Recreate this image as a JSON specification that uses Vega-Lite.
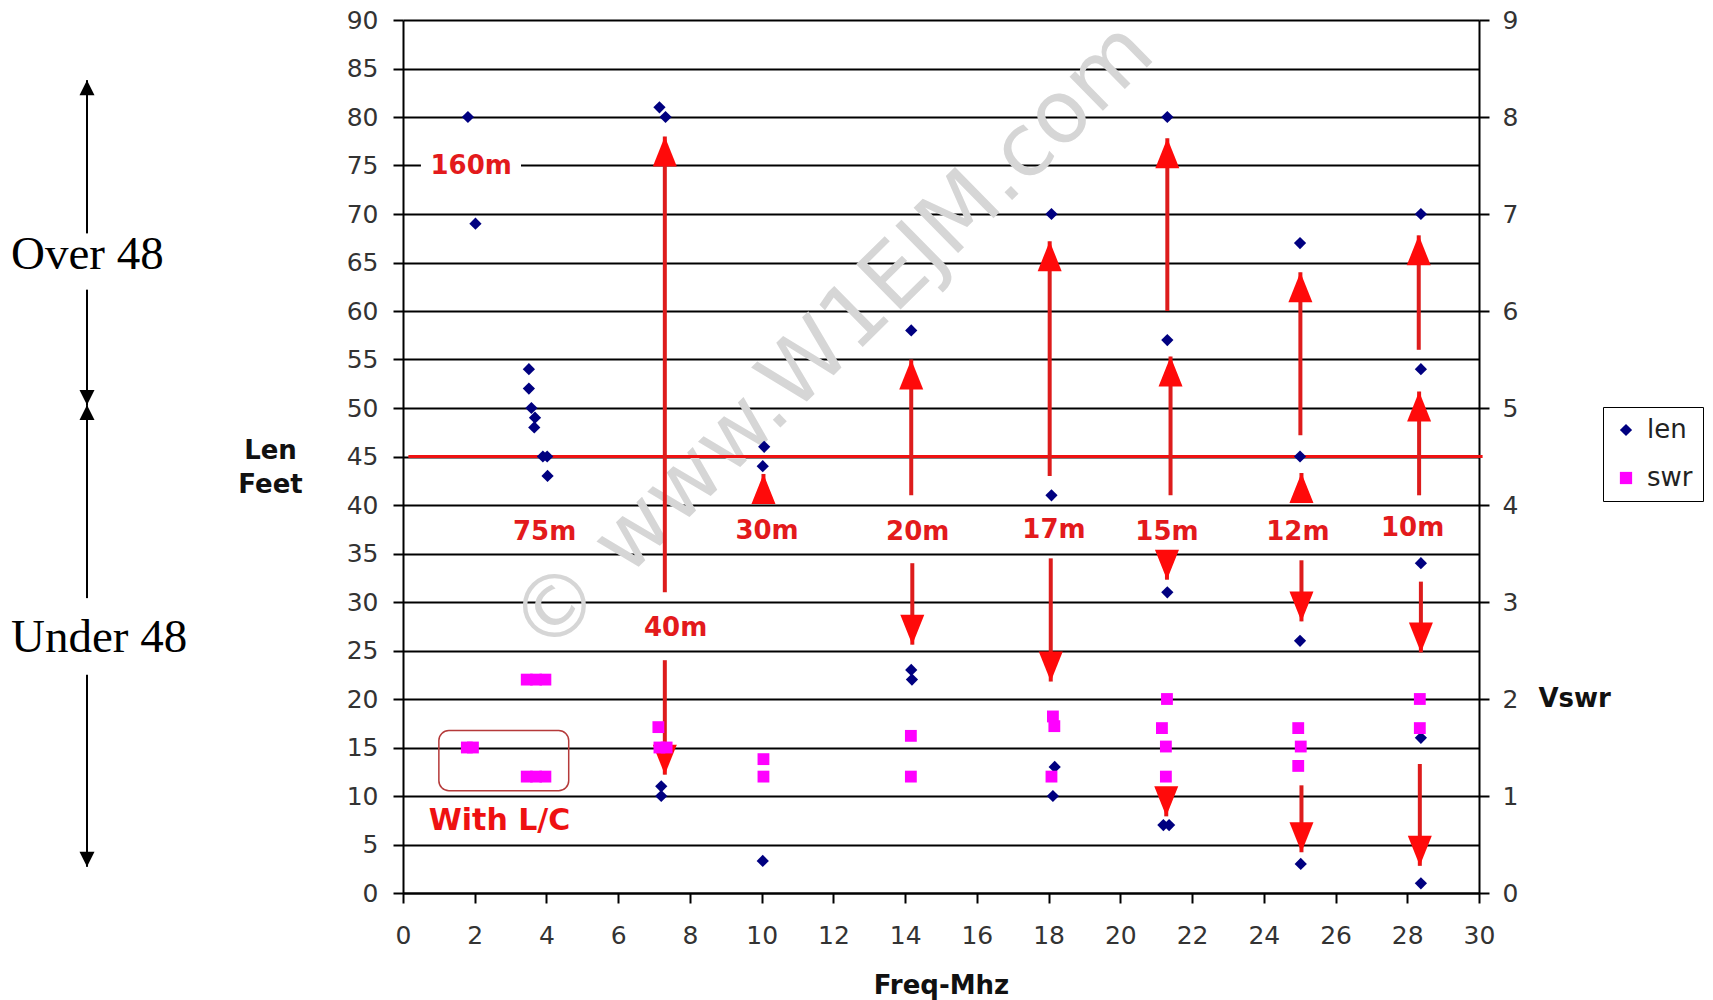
{
  "$schema": "https://vega.github.io/schema/vega-lite/v6.json",
  "width": 1076,
  "height": 873,
  "autosize": {"type": "none"},
  "padding": {"left": 403, "top": 20, "right": 234, "bottom": 107},
  "background": "white",
  "config": {"view": {"stroke": null}, "font": "DejaVu Sans"},
  "datasets": {
    "len": [
      {"series": "len", "freq": 1.81, "len": 80},
      {"series": "len", "freq": 2.02, "len": 69},
      {"series": "len", "freq": 3.51, "len": 54},
      {"series": "len", "freq": 3.51, "len": 52},
      {"series": "len", "freq": 3.58, "len": 50},
      {"series": "len", "freq": 3.68, "len": 49},
      {"series": "len", "freq": 3.66, "len": 48},
      {"series": "len", "freq": 3.9, "len": 45},
      {"series": "len", "freq": 4.02, "len": 45},
      {"series": "len", "freq": 4.03, "len": 43},
      {"series": "len", "freq": 7.15, "len": 81},
      {"series": "len", "freq": 7.32, "len": 80},
      {"series": "len", "freq": 7.2, "len": 11},
      {"series": "len", "freq": 7.2, "len": 10},
      {"series": "len", "freq": 10.07, "len": 46},
      {"series": "len", "freq": 10.03, "len": 44},
      {"series": "len", "freq": 10.03, "len": 3.3},
      {"series": "len", "freq": 14.17, "len": 58},
      {"series": "len", "freq": 14.17, "len": 23},
      {"series": "len", "freq": 14.19, "len": 22},
      {"series": "len", "freq": 18.08, "len": 70},
      {"series": "len", "freq": 18.08, "len": 41},
      {"series": "len", "freq": 18.17, "len": 13},
      {"series": "len", "freq": 18.12, "len": 10},
      {"series": "len", "freq": 21.31, "len": 80},
      {"series": "len", "freq": 21.31, "len": 57},
      {"series": "len", "freq": 21.31, "len": 31},
      {"series": "len", "freq": 21.2, "len": 7},
      {"series": "len", "freq": 21.36, "len": 7},
      {"series": "len", "freq": 25.01, "len": 67},
      {"series": "len", "freq": 25.01, "len": 45},
      {"series": "len", "freq": 25.01, "len": 26},
      {"series": "len", "freq": 25.03, "len": 3},
      {"series": "len", "freq": 28.38, "len": 70},
      {"series": "len", "freq": 28.38, "len": 54},
      {"series": "len", "freq": 28.38, "len": 34},
      {"series": "len", "freq": 28.38, "len": 16},
      {"series": "len", "freq": 28.38, "len": 1}
    ],
    "swr": [
      {"series": "swr", "freq": 1.78, "swr": 1.5},
      {"series": "swr", "freq": 1.95, "swr": 1.5},
      {"series": "swr", "freq": 3.45, "swr": 2.2},
      {"series": "swr", "freq": 3.71, "swr": 2.2},
      {"series": "swr", "freq": 3.97, "swr": 2.2},
      {"series": "swr", "freq": 3.45, "swr": 1.2},
      {"series": "swr", "freq": 3.71, "swr": 1.2},
      {"series": "swr", "freq": 3.97, "swr": 1.2},
      {"series": "swr", "freq": 7.12, "swr": 1.71},
      {"series": "swr", "freq": 7.15, "swr": 1.5},
      {"series": "swr", "freq": 7.35, "swr": 1.5},
      {"series": "swr", "freq": 10.05, "swr": 1.38},
      {"series": "swr", "freq": 10.05, "swr": 1.2},
      {"series": "swr", "freq": 14.16, "swr": 1.62},
      {"series": "swr", "freq": 14.16, "swr": 1.2},
      {"series": "swr", "freq": 18.12, "swr": 1.82},
      {"series": "swr", "freq": 18.16, "swr": 1.72},
      {"series": "swr", "freq": 18.08, "swr": 1.2},
      {"series": "swr", "freq": 21.3, "swr": 2.0},
      {"series": "swr", "freq": 21.16, "swr": 1.7},
      {"series": "swr", "freq": 21.27, "swr": 1.51},
      {"series": "swr", "freq": 21.27, "swr": 1.2},
      {"series": "swr", "freq": 24.96, "swr": 1.7},
      {"series": "swr", "freq": 25.03, "swr": 1.51},
      {"series": "swr", "freq": 24.96, "swr": 1.31},
      {"series": "swr", "freq": 28.35, "swr": 2.0},
      {"series": "swr", "freq": 28.35, "swr": 1.7}
    ],
    "arrows": [
      {"band": "40m", "x": 7.3, "base": 31, "tip": 78},
      {"band": "40m", "x": 7.3, "base": 24, "tip": 12.2},
      {"band": "30m", "x": 10.05, "base": 40.3, "tip": 43.2},
      {"band": "20m", "x": 14.17, "base": 41, "tip": 55},
      {"band": "20m", "x": 14.2, "base": 34, "tip": 25.6},
      {"band": "17m", "x": 18.03, "base": 43, "tip": 67.2},
      {"band": "17m", "x": 18.06, "base": 34.5, "tip": 21.8},
      {"band": "15m", "x": 21.31, "base": 60, "tip": 77.8},
      {"band": "15m", "x": 21.4, "base": 41, "tip": 55.3},
      {"band": "15m", "x": 21.3, "base": 35.3, "tip": 32.3},
      {"band": "15m", "x": 21.28, "base": 10.8, "tip": 7.9},
      {"band": "12m", "x": 25.02, "base": 47.2, "tip": 64},
      {"band": "12m", "x": 25.05, "base": 40.3, "tip": 43.3},
      {"band": "12m", "x": 25.05, "base": 34.3, "tip": 28},
      {"band": "12m", "x": 25.05, "base": 11.1, "tip": 4.2},
      {"band": "10m", "x": 28.32, "base": 56, "tip": 67.8},
      {"band": "10m", "x": 28.33, "base": 41, "tip": 51.7},
      {"band": "10m", "x": 28.38, "base": 32.1, "tip": 24.8},
      {"band": "10m", "x": 28.35, "base": 13.3, "tip": 2.8}
    ],
    "bands": [
      {"label": "160m", "x": 1.9, "y": 75},
      {"label": "75m", "x": 3.95, "y": 37.2},
      {"label": "40m", "x": 7.6, "y": 27.3},
      {"label": "30m", "x": 10.15, "y": 37.3},
      {"label": "20m", "x": 14.35, "y": 37.2},
      {"label": "17m", "x": 18.15, "y": 37.4},
      {"label": "15m", "x": 21.3, "y": 37.2},
      {"label": "12m", "x": 24.95, "y": 37.2},
      {"label": "10m", "x": 28.15, "y": 37.6}
    ],
    "side": [
      {"x": -8.81, "base": 68.0, "tip": 83.8},
      {"x": -8.81, "base": 62.2, "tip": 50.3},
      {"x": -8.81, "base": 30.4, "tip": 50.3},
      {"x": -8.81, "base": 22.5, "tip": 2.7}
    ],
    "sideText": [
      {"t": "Over 48", "x": -10.93, "y": 65.8},
      {"t": "Under 48", "x": -10.93, "y": 26.3}
    ]
  },
  "layer": [
    {
      "layer": [
        {
          "data": {"name": "len"},
          "mark": {"type": "point", "filled": true, "opacity": 0, "size": 1},
          "encoding": {
            "x": {
              "field": "freq", "type": "quantitative",
              "scale": {"domain": [0, 30], "nice": false, "zero": false},
              "axis": {
                "values": [0, 2, 4, 6, 8, 10, 12, 14, 16, 18, 20, 22, 24, 26, 28, 30],
                "grid": false, "domainColor": "#000", "domainWidth": 2,
                "tickColor": "#000", "tickWidth": 2, "tickSize": 10,
                "labelFontSize": 25, "labelFont": "DejaVu Sans", "labelColor": "#333",
                "labelPadding": 20, "labelFlush": false, "labelOverlap": false,
                "title": "Freq-Mhz", "titleFontSize": 26, "titleFontWeight": "bold", "titleFont": "DejaVu Sans",
                "titleColor": "#111", "titleY": 100, "titleBaseline": "alphabetic"
              }
            },
            "y": {
              "field": "len", "type": "quantitative",
              "scale": {"domain": [0, 90], "nice": false},
              "axis": {
                "values": [0, 5, 10, 15, 20, 25, 30, 35, 40, 45, 50, 55, 60, 65, 70, 75, 80, 85, 90],
                "grid": true, "gridColor": "#000", "gridWidth": 2, "gridOpacity": 1,
                "domainColor": "#000", "domainWidth": 2,
                "tickColor": "#000", "tickWidth": 2, "tickSize": 10,
                "labelFontSize": 25, "labelFont": "DejaVu Sans", "labelColor": "#333",
                "labelPadding": 15, "labelFlush": false, "labelOverlap": false,
                "title": ["Len", "Feet"], "titleFontSize": 26, "titleFontWeight": "bold", "titleFont": "DejaVu Sans",
                "titleColor": "#111", "titleAngle": 0, "titleAlign": "center", "titleBaseline": "alphabetic",
                "titleX": -133, "titleY": 438, "titleLineHeight": 34
              }
            }
          }
        },
        {
          "data": {"values": [{"x1": 0.5, "x2": 3.29, "y1": 73.8, "y2": 76.2}]},
          "mark": {"type": "rect", "fill": "white"},
          "encoding": {
            "x": {"field": "x1", "type": "quantitative", "scale": {"domain": [0, 30], "nice": false, "zero": false}},
            "x2": {"field": "x2"},
            "y": {"field": "y1", "type": "quantitative", "scale": {"domain": [0, 90], "nice": false}},
            "y2": {"field": "y2"}
          }
        },
        {
          "data": {"values": [{"wm": "© www.W1EJM.com", "x": 12.0, "y": 57.1}]},
          "mark": {"type": "text", "angle": -44.5, "fontSize": 87, "font": "DejaVu Sans", "color": "#d6d6d6", "align": "center", "baseline": "middle"},
          "encoding": {
            "x": {"field": "x", "type": "quantitative", "scale": {"domain": [0, 30]}},
            "y": {"field": "y", "type": "quantitative", "scale": {"domain": [0, 90]}},
            "text": {"field": "wm"}
          }
        },
        {
          "data": {"values": [{"x1": 0.15, "x2": 30.1, "y": 45}]},
          "mark": {"type": "rule", "color": "#ee1111", "strokeWidth": 3},
          "encoding": {
            "x": {"field": "x1", "type": "quantitative", "scale": {"domain": [0, 30]}},
            "x2": {"field": "x2"},
            "y": {"field": "y", "type": "quantitative", "scale": {"domain": [0, 90]}}
          }
        },
        {
          "data": {"name": "arrows"},
          "mark": {"type": "rule", "color": "#dd1c1c", "strokeWidth": 4},
          "encoding": {
            "x": {"field": "x", "type": "quantitative", "scale": {"domain": [0, 30]}},
            "y": {"field": "base", "type": "quantitative", "scale": {"domain": [0, 90]}},
            "y2": {"field": "tip"}
          }
        },
        {
          "data": {"name": "arrows"},
          "transform": [{"filter": "datum.tip > datum.base"}],
          "mark": {"type": "point", "shape": "M0,0L0.8,2L-0.8,2Z", "filled": true, "color": "#ff0a0a", "opacity": 1, "size": 900},
          "encoding": {
            "x": {"field": "x", "type": "quantitative", "scale": {"domain": [0, 30]}},
            "y": {"field": "tip", "type": "quantitative", "scale": {"domain": [0, 90]}}
          }
        },
        {
          "data": {"name": "arrows"},
          "transform": [{"filter": "datum.tip < datum.base"}],
          "mark": {"type": "point", "shape": "M0,0L0.8,-2L-0.8,-2Z", "filled": true, "color": "#ff0a0a", "opacity": 1, "size": 900},
          "encoding": {
            "x": {"field": "x", "type": "quantitative", "scale": {"domain": [0, 30]}},
            "y": {"field": "tip", "type": "quantitative", "scale": {"domain": [0, 90]}}
          }
        },
        {
          "data": {"name": "len"},
          "mark": {"type": "point", "filled": true, "opacity": 1, "size": 150},
          "encoding": {
            "x": {"field": "freq", "type": "quantitative", "scale": {"domain": [0, 30]}},
            "y": {"field": "len", "type": "quantitative", "scale": {"domain": [0, 90]}},
            "color": {
              "field": "series", "type": "nominal",
              "scale": {"domain": ["len", "swr"], "range": ["#000080", "#ff00ff"]},
              "legend": {
                "orient": "none", "legendX": 1200, "legendY": 387, "title": null,
                "strokeColor": "#000", "fillColor": "white", "padding": 10,
                "labelFontSize": 26, "labelFont": "DejaVu Sans", "labelColor": "#222",
                "labelOffset": 8, "rowPadding": 22, "symbolSize": 150
              }
            },
            "shape": {
              "field": "series", "type": "nominal",
              "scale": {"domain": ["len", "swr"], "range": ["diamond", "square"]},
              "legend": {
                "orient": "none", "legendX": 1200, "legendY": 387, "title": null,
                "strokeColor": "#000", "fillColor": "white", "padding": 10,
                "labelFontSize": 26, "labelFont": "DejaVu Sans", "labelColor": "#222",
                "labelOffset": 8, "rowPadding": 22, "symbolSize": 150
              }
            }
          }
        },
        {
          "data": {"name": "bands"},
          "mark": {"type": "text", "fontSize": 26, "fontWeight": "bold", "font": "DejaVu Sans", "color": "#e31a1c", "align": "center", "baseline": "middle"},
          "encoding": {
            "x": {"field": "x", "type": "quantitative", "scale": {"domain": [0, 30]}},
            "y": {"field": "y", "type": "quantitative", "scale": {"domain": [0, 90]}},
            "text": {"field": "label"}
          }
        },
        {
          "data": {"values": [{"x1": 1.0, "x2": 4.62, "y1": 10.54, "y2": 16.74}]},
          "mark": {"type": "rect", "fill": null, "fillOpacity": 0, "stroke": "#b53a3a", "strokeWidth": 1.5, "cornerRadius": 10},
          "encoding": {
            "x": {"field": "x1", "type": "quantitative", "scale": {"domain": [0, 30]}},
            "x2": {"field": "x2"},
            "y": {"field": "y1", "type": "quantitative", "scale": {"domain": [0, 90]}},
            "y2": {"field": "y2"}
          }
        },
        {
          "data": {"values": [{"t": "With L/C", "x": 2.69, "y": 7.4}]},
          "mark": {"type": "text", "fontSize": 30, "fontWeight": "bold", "font": "DejaVu Sans", "color": "#ee1111", "align": "center", "baseline": "middle"},
          "encoding": {
            "x": {"field": "x", "type": "quantitative", "scale": {"domain": [0, 30]}},
            "y": {"field": "y", "type": "quantitative", "scale": {"domain": [0, 90]}},
            "text": {"field": "t"}
          }
        },
        {
          "data": {"name": "side"},
          "mark": {"type": "rule", "color": "#000", "strokeWidth": 2},
          "encoding": {
            "x": {"field": "x", "type": "quantitative", "scale": {"domain": [0, 30]}},
            "y": {"field": "base", "type": "quantitative", "scale": {"domain": [0, 90]}},
            "y2": {"field": "tip"}
          }
        },
        {
          "data": {"name": "side"},
          "transform": [{"filter": "datum.tip > datum.base"}],
          "mark": {"type": "point", "shape": "M0,0L1,2L-1,2Z", "filled": true, "color": "#000", "opacity": 1, "size": 225},
          "encoding": {
            "x": {"field": "x", "type": "quantitative", "scale": {"domain": [0, 30]}},
            "y": {"field": "tip", "type": "quantitative", "scale": {"domain": [0, 90]}}
          }
        },
        {
          "data": {"name": "side"},
          "transform": [{"filter": "datum.tip < datum.base"}],
          "mark": {"type": "point", "shape": "M0,0L1,-2L-1,-2Z", "filled": true, "color": "#000", "opacity": 1, "size": 225},
          "encoding": {
            "x": {"field": "x", "type": "quantitative", "scale": {"domain": [0, 30]}},
            "y": {"field": "tip", "type": "quantitative", "scale": {"domain": [0, 90]}}
          }
        },
        {
          "data": {"name": "sideText"},
          "mark": {"type": "text", "fontSize": 47, "font": "Liberation Serif", "color": "#000", "align": "left", "baseline": "middle"},
          "encoding": {
            "x": {"field": "x", "type": "quantitative", "scale": {"domain": [0, 30]}},
            "y": {"field": "y", "type": "quantitative", "scale": {"domain": [0, 90]}},
            "text": {"field": "t"}
          }
        }
      ]
    },
    {
      "data": {"name": "swr"},
      "mark": {"type": "point", "filled": true, "opacity": 1, "size": 140},
      "encoding": {
        "x": {"field": "freq", "type": "quantitative", "scale": {"domain": [0, 30], "nice": false, "zero": false}},
        "y": {
          "field": "swr", "type": "quantitative",
          "scale": {"domain": [0, 9], "nice": false},
          "axis": {
            "orient": "right",
            "values": [0, 1, 2, 3, 4, 5, 6, 7, 8, 9],
            "grid": false, "domainColor": "#000", "domainWidth": 2,
            "tickColor": "#000", "tickWidth": 2, "tickSize": 10,
            "labelFontSize": 25, "labelFont": "DejaVu Sans", "labelColor": "#333",
            "labelPadding": 13, "labelFlush": false, "labelOverlap": false,
            "title": "Vswr", "titleFontSize": 26, "titleFontWeight": "bold", "titleFont": "DejaVu Sans",
            "titleColor": "#111", "titleAngle": 0, "titleAlign": "left", "titleBaseline": "middle",
            "titleX": 59, "titleY": 678
          }
        },
        "color": {"field": "series", "type": "nominal", "scale": {"domain": ["len", "swr"], "range": ["#000080", "#ff00ff"]}},
        "shape": {"field": "series", "type": "nominal", "scale": {"domain": ["len", "swr"], "range": ["diamond", "square"]}}
      }
    }
  ],
  "resolve": {"scale": {"y": "independent"}, "axis": {"y": "independent"}}
}
